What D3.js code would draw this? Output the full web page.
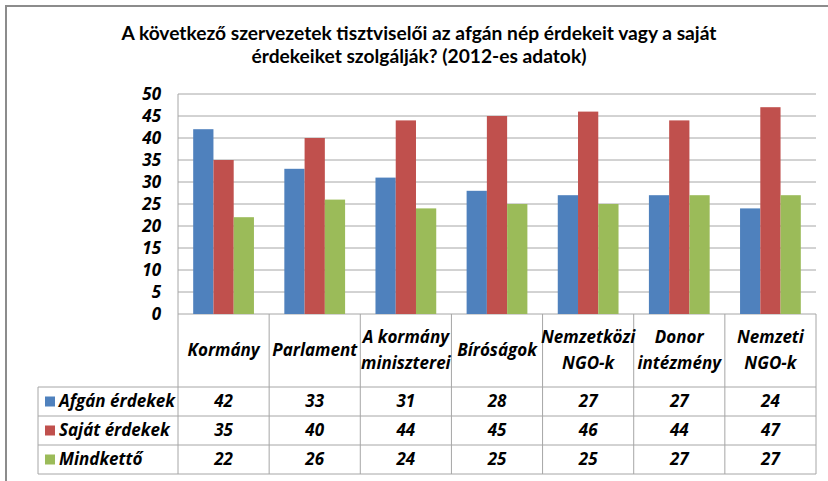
<!DOCTYPE html>
<html>
<head>
<meta charset="utf-8">
<script src="https://cdn.jsdelivr.net/npm/d3@7"></script>
<style>
  body { margin: 0; background: #fff; }
  svg { display: block; font-family: Lato, 'Open Sans', sans-serif; }
  .bi { font-family: 'Open Sans', sans-serif; font-weight: bold; font-style: italic; fill: #000; }
</style>
</head>
<body>
<svg id="container" width="828" height="481"></svg>
<script>
const categories = [
  ['Kormány'],
  ['Parlament'],
  ['A kormány', 'miniszterei'],
  ['Bíróságok'],
  ['Nemzetközi', 'NGO-k'],
  ['Donor', 'intézmény'],
  ['Nemzeti', 'NGO-k'],
]
const seriesNames = ['Afgán érdekek', 'Saját érdekek', 'Mindkettő']
const afganErdekek = [42, 33, 31, 28, 27, 27, 24]
const sajatErdekek = [35, 40, 44, 45, 46, 44, 47]
const mindketto = [22, 26, 24, 25, 25, 27, 27]
const yTicks = [0, 5, 10, 15, 20, 25, 30, 35, 40, 45, 50]
const colors = ['#4f81bd', '#c0504d', '#9bbb59']
const titleLines = [
  'A következő szervezetek tisztviselői az afgán nép érdekeit vagy a saját',
  'érdekeiket szolgálják? (2012-es adatok)',
]

const seriesValues = [afganErdekek, sajatErdekek, mindketto]
const catKeys = categories.map((c) => c.join(' '))

const svg = d3.select('#container')

// outer frame (only top and left edges are visible)
svg.append('path').attr('d', 'M6,481V6H828').attr('fill', 'none').attr('stroke', '#8c8c8c').attr('stroke-width', 2)

// title
svg
  .selectAll('.title')
  .data(titleLines)
  .enter()
  .append('text')
  .attr('x', 419)
  .attr('y', (d, i) => 40 + i * 23)
  .attr('text-anchor', 'middle')
  .style('font-weight', 'bold')
  .style('font-size', '19.2px')
  .text((d) => d)

const plotLeft = 178,
  plotRight = 816,
  plotTop = 94,
  plotBottom = 314,
  headerBottom = 387,
  rowH = 29,
  tableLeft = 38

const x0 = d3.scaleBand().domain(catKeys).range([plotLeft, plotRight])
const x1 = d3
  .scaleBand()
  .domain(seriesNames)
  .range([0, x0.bandwidth()])
  .paddingInner(0)
  .paddingOuter(0.75)
const y = d3.scaleLinear().domain([0, 50]).range([plotBottom, plotTop])

// gridlines
svg
  .append('g')
  .selectAll('line')
  .data(yTicks)
  .enter()
  .append('line')
  .attr('x1', plotLeft)
  .attr('x2', plotRight)
  .attr('y1', (d) => y(d))
  .attr('y2', (d) => y(d))
  .attr('stroke', '#a6a6a6')
  .attr('stroke-width', 1)

// y axis labels
const yAxis = d3.axisLeft(y).tickValues(yTicks).tickSize(0).tickPadding(17)
const yg = svg.append('g').attr('transform', `translate(${plotLeft},0)`).call(yAxis)
yg.select('.domain').remove()
yg.selectAll('text').attr('class', 'bi').style('font-size', '17px').attr('font-family', null)

// bars
const groups = svg
  .append('g')
  .selectAll('g')
  .data(catKeys)
  .enter()
  .append('g')
  .attr('transform', (d) => `translate(${x0(d)},0)`)

groups
  .selectAll('rect')
  .data((d, ci) => seriesNames.map((s, si) => ({ s, si, v: seriesValues[si][ci] })))
  .enter()
  .append('rect')
  .attr('x', (d) => x1(d.s))
  .attr('width', x1.bandwidth())
  .attr('y', (d) => y(d.v))
  .attr('height', (d) => y(0) - y(d.v))
  .attr('fill', (d) => colors[d.si])

// data table
const tableBottom = headerBottom + rowH * seriesNames.length
const gridColor = '#a6a6a6'
const t = svg.append('g')

// vertical axis line + category dividers
t.selectAll('.vline')
  .data(catKeys.concat(['end']))
  .enter()
  .append('line')
  .attr('x1', (d) => (d === 'end' ? plotRight : x0(d)))
  .attr('x2', (d) => (d === 'end' ? plotRight : x0(d)))
  .attr('y1', (d, i) => (i === 0 ? plotTop : plotBottom))
  .attr('y2', tableBottom)
  .attr('stroke', gridColor)

// horizontal row lines
t.selectAll('.hline')
  .data(d3.range(seriesNames.length + 1))
  .enter()
  .append('line')
  .attr('x1', tableLeft)
  .attr('x2', plotRight)
  .attr('y1', (d) => headerBottom + d * rowH)
  .attr('y2', (d) => headerBottom + d * rowH)
  .attr('stroke', gridColor)

t.append('line')
  .attr('x1', tableLeft)
  .attr('x2', tableLeft)
  .attr('y1', headerBottom)
  .attr('y2', tableBottom)
  .attr('stroke', gridColor)

// category header labels
const headerMid = (plotBottom + headerBottom) / 2
categories.forEach((lines, ci) => {
  const cx = x0(catKeys[ci]) + x0.bandwidth() / 2
  lines.forEach((line, li) => {
    t.append('text')
      .attr('class', 'bi')
      .attr('x', cx)
      .attr('y', headerMid + (li - (lines.length - 1) / 2) * 26)
      .attr('dy', '0.35em')
      .attr('text-anchor', 'middle')
      .style('font-size', '17px')
      .text(line)
  })
})

// legend keys + series names + values
seriesNames.forEach((s, si) => {
  const cy = headerBottom + si * rowH + rowH / 2
  t.append('rect')
    .attr('x', 45)
    .attr('y', cy - 5)
    .attr('width', 10)
    .attr('height', 10)
    .attr('fill', colors[si])
  t.append('text')
    .attr('class', 'bi')
    .attr('x', 59)
    .attr('y', cy)
    .attr('dy', '0.35em')
    .style('font-size', '17px')
    .text(s)
  catKeys.forEach((c, ci) => {
    t.append('text')
      .attr('class', 'bi')
      .attr('x', x0(c) + x0.bandwidth() / 2)
      .attr('y', cy)
      .attr('dy', '0.35em')
      .attr('text-anchor', 'middle')
      .style('font-size', '17px')
      .text(seriesValues[si][ci])
  })
})
</script>
</body>
</html>
